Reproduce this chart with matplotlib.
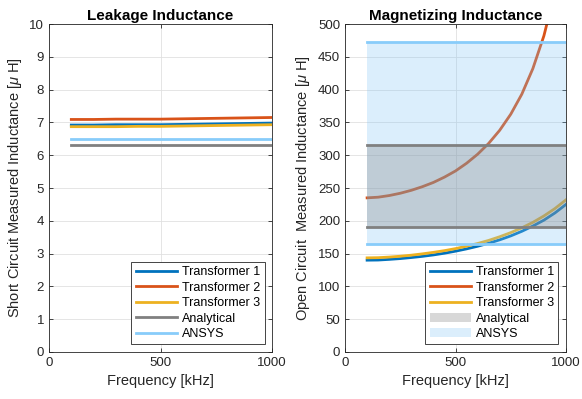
import numpy as np
import matplotlib
matplotlib.use("Agg")
import matplotlib.pyplot as plt

plt.rcParams['font.family'] = ['Liberation Sans', 'DejaVu Sans']
plt.rcParams['mathtext.fontset'] = 'custom'
plt.rcParams['mathtext.it'] = 'Liberation Sans:italic'

# frequency points [kHz]
freq = [100, 200, 300, 400, 500, 600, 700, 800, 900, 1000]
freq_fine = [100, 150, 200, 250, 300, 350, 400, 450, 500, 550, 600, 650,
             700, 750, 800, 850, 900, 950, 1000]

# leakage (short circuit) inductance [uH]
leak_t1 = [6.92, 6.92, 6.93, 6.93, 6.93, 6.94, 6.95, 6.96, 6.97, 6.98]
leak_t2 = [7.09, 7.09, 7.10, 7.10, 7.10, 7.11, 7.12, 7.13, 7.14, 7.15]
leak_t3 = [6.87, 6.87, 6.87, 6.88, 6.88, 6.89, 6.90, 6.91, 6.92, 6.93]
leak_analytical = 6.30
leak_ansys = 6.48

# magnetizing (open circuit) inductance [uH]
mag_t1 = [140, 140.2, 141.2, 142.4, 144, 145.8, 148, 150.6, 153.7, 157.2,
          161.2, 165.8, 171, 177, 184, 192, 201, 212, 225]
mag_t2 = [235, 236, 238.5, 242, 246.5, 252, 258.5, 266.6, 276, 287.7,
          301.5, 318, 338, 362.5, 393, 432, 482, 549, 640]
mag_t3 = [143.5, 143.8, 144.7, 146, 147.6, 149.6, 151.9, 154.5, 157.6, 161.3,
          165.4, 170.1, 175.7, 182, 189.3, 197.6, 207.4, 218.7, 232]
mag_analytical = (190, 315)
mag_ansys = (165, 473)

c1 = (0.0, 0.447, 0.741)
c2 = (0.850, 0.325, 0.098)
c3 = (0.929, 0.694, 0.125)
c_an = (0.5, 0.5, 0.5)
c_ans = '#88ccfa'
c_ans_fill = '#80c4f5'
lw = 2.0
txt = (0.15, 0.15, 0.15)

fig = plt.figure(figsize=(5.82, 3.99), dpi=100)
ax1 = fig.add_axes([0.0842, 0.1178, 0.3832, 0.822])
ax2 = fig.add_axes([0.5928, 0.1178, 0.3797, 0.822])


def style(ax):
    ax.grid(True, color=(0.88, 0.88, 0.88), linewidth=0.6)
    ax.set_axisbelow(True)
    ax.tick_params(direction='in', top=True, right=True, length=3,
                   labelsize=9.5, colors=txt, width=0.6)
    for s in ax.spines.values():
        s.set_color(txt)
        s.set_linewidth(0.6)
    ax.set_xlim(0, 1000)
    ax.set_xticks([0, 500, 1000])
    ax.set_xlabel('Frequency [kHz]', fontsize=10.5, color=txt)


def add_legend(ax, handles, labels):
    leg = ax.legend(handles, labels, loc='lower right', fontsize=9,
                    handlelength=3.3, fancybox=False, framealpha=1,
                    edgecolor=txt, borderpad=0.35, labelspacing=0.28,
                    handletextpad=0.4, borderaxespad=0.6)
    leg.get_frame().set_linewidth(0.6)
    leg.set_zorder(10)


# left panel
ax1.plot(freq, leak_t1, color=c1, lw=lw, label='Transformer 1')
ax1.plot(freq, leak_t2, color=c2, lw=lw, label='Transformer 2')
ax1.plot(freq, leak_t3, color=c3, lw=lw, label='Transformer 3')
ax1.plot([freq[0], freq[-1]], [leak_analytical] * 2, color=c_an, lw=lw, label='Analytical')
ax1.plot([freq[0], freq[-1]], [leak_ansys] * 2, color=c_ans, lw=lw, label='ANSYS')
style(ax1)
ax1.set_ylim(0, 10)
ax1.set_yticks(range(0, 11))
ax1.set_ylabel('Short Circuit Measured Inductance [$\\mu$ H]', fontsize=10.5, color=txt)
ax1.set_title('Leakage Inductance', fontsize=11, fontweight='bold', pad=3)
h, l = ax1.get_legend_handles_labels()
add_legend(ax1, h, l)

# right panel
ax2.plot(freq_fine, mag_t1, color=c1, lw=lw, label='Transformer 1')
ax2.plot(freq_fine, mag_t2, color=c2, lw=lw, label='Transformer 2')
ax2.plot(freq_fine, mag_t3, color=c3, lw=lw, label='Transformer 3')
ax2.fill_between([freq[0], freq[-1]], mag_ansys[0], mag_ansys[1], color=c_ans_fill,
                 alpha=0.28, lw=0, label='ANSYS', zorder=3)
ax2.fill_between([freq[0], freq[-1]], mag_analytical[0], mag_analytical[1],
                 color=c_an, alpha=0.3, lw=0, label='Analytical', zorder=3)
for v in mag_analytical:
    ax2.plot([freq[0], freq[-1]], [v, v], color=c_an, lw=lw, zorder=4)
for v in mag_ansys:
    ax2.plot([freq[0], freq[-1]], [v, v], color=c_ans, lw=lw, zorder=4)
style(ax2)
ax2.set_ylim(0, 500)
ax2.set_yticks(range(0, 501, 50))
ax2.set_ylabel('Open Circuit  Measured Inductance [$\\mu$ H]', fontsize=10.5, color=txt)
ax2.set_title('Magnetizing Inductance', fontsize=11, fontweight='bold', pad=3)
h, l = ax2.get_legend_handles_labels()
order = [0, 1, 2, 4, 3]
add_legend(ax2, [h[i] for i in order], [l[i] for i in order])

fig.savefig('out.png', dpi=100)
